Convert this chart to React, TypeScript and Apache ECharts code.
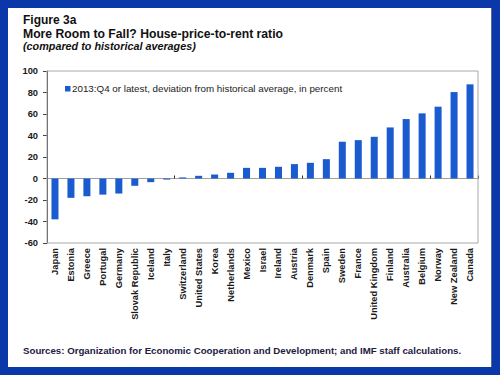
import React, { useEffect, useRef } from "react";
import * as echarts from "echarts";

const countries = [
  "Japan", "Estonia", "Greece", "Portugal", "Germany", "Slovak Republic", "Iceland", "Italy",
  "Switzerland", "United States", "Korea", "Netherlands", "Mexico", "Israel", "Ireland", "Austria",
  "Denmark", "Spain", "Sweden", "France", "United Kingdom", "Finland", "Australia", "Belgium",
  "Norway", "New Zealand", "Canada",
];
const values = [
  -38, -18, -16.5, -15, -14, -6.8, -3.4, -1, 1, 2.5, 3.7, 5.3, 9.9, 9.9, 10.9, 13.4,
  14.6, 18, 34.2, 35.7, 38.8, 47.5, 55.3, 60.6, 66.8, 80.4, 87.6,
];
const seriesName = "2013:Q4 or latest, deviation from historical average, in percent";
const titleLines = ["Figure 3a", "More Room to Fall? House-price-to-rent ratio", "(compared to historical averages)"];
const sourceText = "Sources: Organization for Economic Cooperation and Development; and IMF staff calculations.";
const yMin = -60;
const yMax = 100;
const yInterval = 20;

const FONT = '"Liberation Sans", Arial, sans-serif';
const FRAME = "#0a38a8";
const BAR = "#1a5ccf";

export default function App() {
  const ref = useRef<HTMLDivElement>(null);
  useEffect(() => {
    if (!ref.current) return;
    const chart = echarts.init(ref.current, undefined, { renderer: "svg" });
    chart.setOption({
      animation: false,
      backgroundColor: FRAME,
      textStyle: { fontFamily: FONT },
      grid: {
        left: 47, top: 71, right: 22, bottom: 132,
        show: true, borderColor: "#a8a8a8", borderWidth: 1, backgroundColor: "transparent", z: 3,
      },
      graphic: [
        { type: "rect", z: -10, shape: { x: 8, y: 8, width: 484, height: 359 }, style: { fill: "#ffffff" } },
        { type: "line", z: -9, shape: { x1: 491.5, y1: 8, x2: 491.5, y2: 367 }, style: { stroke: "#5a6a90", lineWidth: 1 } },
        { type: "text", left: 23, top: 14, style: { text: titleLines[0], font: `bold 12px ${FONT}`, fill: "#111" } },
        { type: "text", left: 23, top: 28, style: { text: titleLines[1], font: `bold 12.2px ${FONT}`, fill: "#111" } },
        { type: "text", left: 23, top: 40.5, style: { text: titleLines[2], font: `italic bold 10.8px ${FONT}`, fill: "#111" } },
        { type: "rect", shape: { x: 65, y: 86, width: 5.5, height: 5.5 }, style: { fill: BAR } },
        { type: "text", left: 72, top: 83, style: { text: seriesName, font: `9.8px ${FONT}`, fill: "#222" } },
        { type: "text", left: 23, top: 345.5, style: { text: sourceText, font: `bold 9.7px ${FONT}`, fill: "#1c2040" } },
      ],
      xAxis: [
        {
          type: "category", data: countries, position: "bottom",
          axisLine: { show: false, onZero: false },
          axisTick: { show: false },
          axisLabel: { rotate: 90, margin: 5, fontSize: 9.3, fontWeight: "bold", color: "#1a1a1a", interval: 0, fontFamily: FONT },
        },
        {
          type: "category", data: countries, position: "bottom",
          axisLine: { show: true, onZero: true, lineStyle: { color: "#a0a0a0", width: 1 } },
          axisTick: { show: true, inside: true, length: 3, lineStyle: { color: "#333", width: 1 } },
          axisLabel: { show: false },
        },
      ],
      yAxis: {
        type: "value", min: yMin, max: yMax, interval: yInterval,
        axisLine: { show: true, lineStyle: { color: "#444", width: 1 } },
        axisTick: { show: true, length: 4, lineStyle: { color: "#444" } },
        splitLine: { show: false },
        axisLabel: { margin: 9, fontSize: 9.3, fontWeight: "bold", color: "#1a1a1a", fontFamily: FONT },
      },
      series: [
        {
          type: "bar", name: seriesName, data: values, xAxisIndex: 0, yAxisIndex: 0,
          barWidth: "44%", itemStyle: { color: BAR },
        },
      ],
    });
    return () => chart.dispose();
  }, []);
  return <div ref={ref} style={{ position: "fixed", left: 0, top: 0, width: 500, height: 375 }} />;
}
